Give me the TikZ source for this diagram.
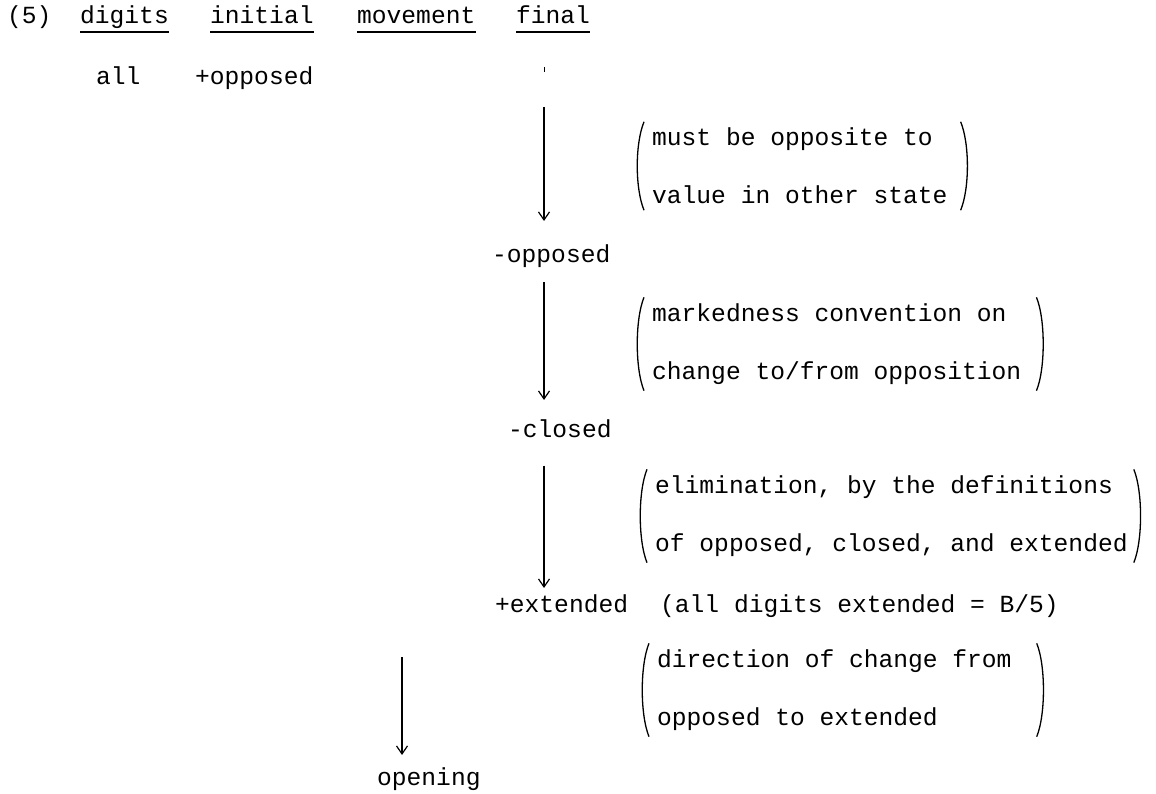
\documentclass[tikz,border=0pt]{standalone}
\usepackage{fontspec}
\setmonofont{Liberation Mono}
\usetikzlibrary{arrows.meta}
\begin{document}
\begin{tikzpicture}[
  x=1pt, y=1pt,
  word/.style={font=\ttfamily\fontsize{24.6}{58}\selectfont, inner sep=0pt, anchor=base west},
  head/.style={word, text depth=8pt},
  gloss/.style={font=\ttfamily\fontsize{24.6}{58}\selectfont, align=left, inner xsep=0pt, inner ysep=6pt, anchor=west},
  arr/.style={line width=1.2pt, -{Straight Barb[length=8pt,width=11pt]}},
  paren/.style={line width=1.3pt}
]
\path[use as bounding box, fill=white] (0,0) rectangle (1156,-794);
\node[word] (num) at (7,-24) {(5)};
\foreach \n/\x/\w in {dig/80/digits,ini/210/initial,mov/357/movement,fin/516/final} {
  \node[head] (\n) at (\x,-24) {\w};
  \draw[line width=1.5pt] (\n.south west) -- (\n.south east);
}
\node[word] (all) at (96,-85) {all};
\node[word] (start) at (195,-85) {+opposed};
\node[word] (opp) at (492,-262) {-opposed};
\node[word] (cls) at (508,-437) {-closed};
\node[word] (ext) at (495,-612) {+extended};
\node[word] (extnote) at (660,-612) {(all digits extended = B/5)};
\node[word] (open) at (377,-785) {opening};
\node[gloss] (g1) at (652,-166) {must be opposite to\\value in other state};
\node[gloss] (g2) at (652,-344) {markedness convention on\\change to/from opposition};
\node[gloss] (g3) at (655,-516) {elimination, by the definitions\\of opposed, closed, and extended};
\node[gloss] (g4) at (657,-690) {direction of change from\\opposed to extended};
\coordinate (tick) at (544,-67);
\coordinate (a1) at (544,-107);
\coordinate (a4) at (402,-657);
\draw[line width=1pt] (tick) -- ++(0,-5);
\draw[arr, shorten >=23pt] (a1) -- (opp.north -| a1);
\draw[arr, shorten <=15pt, shorten >=19pt] (opp.south -| a1) -- (cls.north -| a1);
\draw[arr, shorten <=28pt, shorten >=6pt] (cls.south -| a1) -- (ext.north -| a1);
\draw[arr, shorten >=12pt] (a4) -- (open.north -| a4);
\foreach \g/\r in {g1/13,g2/15,g3/6,g4/25} {
  \draw[paren] ([xshift=-8pt]\g.north west) .. controls +(-9,-22) and +(-9,22) .. ([xshift=-8pt]\g.south west);
  \draw[paren] ([xshift=\r pt]\g.north east) .. controls +(9,-22) and +(9,22) .. ([xshift=\r pt]\g.south east);
}
\end{tikzpicture}
\end{document}
